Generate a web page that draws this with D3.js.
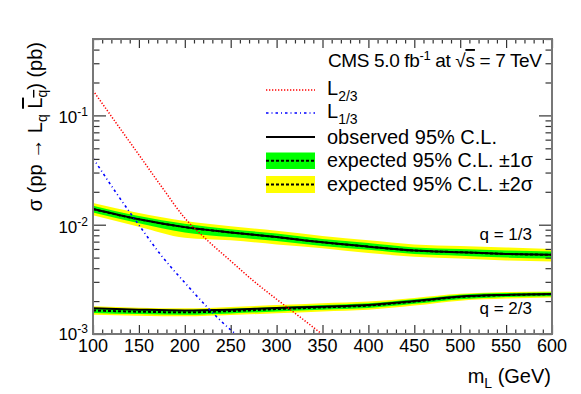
<!DOCTYPE html>
<html>
<head>
<meta charset="utf-8">
<script src="https://d3js.org/d3.v7.min.js"></script>
<style>
  body { margin: 0; background: #fff; }
  text { font-family: "Liberation Sans", Arial, sans-serif; fill: #000; }
</style>
</head>
<body>
<svg width="581" height="394"></svg>
<script>
// mass points for the limits (GeV)
var mass = [100, 150, 200, 250, 300, 350, 400, 450, 500, 550, 600];

// q = 1/3 limits (pb)
var obs13   = [0.0139, 0.0112, 0.0095, 0.0085, 0.0077, 0.0069, 0.0063, 0.0058, 0.0056, 0.0054, 0.0053];
var exp13   = [0.0139, 0.0112, 0.0095, 0.0085, 0.0077, 0.0069, 0.0063, 0.0058, 0.0056, 0.0054, 0.0053];
var exp13p1 = [0.0149, 0.0120, 0.0102, 0.0091, 0.0083, 0.0074, 0.0068, 0.0062, 0.0060, 0.0058, 0.0057];
var exp13m1 = [0.0129, 0.0103, 0.0085, 0.0077, 0.0071, 0.0064, 0.0059, 0.0054, 0.0052, 0.0050, 0.0049];
var exp13p2 = [0.0158, 0.0128, 0.0108, 0.0097, 0.0088, 0.0079, 0.0072, 0.0066, 0.0064, 0.0062, 0.0060];
var exp13m2 = [0.0122, 0.0096, 0.0076, 0.0072, 0.0066, 0.0061, 0.0055, 0.0051, 0.0049, 0.0047, 0.0046];

// q = 2/3 limits (pb)
var obs23   = [0.00172, 0.00167, 0.00164, 0.00167, 0.00173, 0.00178, 0.00184, 0.00200, 0.00220, 0.00228, 0.00232];
var exp23   = [0.00164, 0.00160, 0.00158, 0.00162, 0.00169, 0.00175, 0.00182, 0.00198, 0.00218, 0.00227, 0.00231];
var exp23p1 = [0.00172, 0.00168, 0.00166, 0.00170, 0.00177, 0.00184, 0.00191, 0.00208, 0.00229, 0.00237, 0.00240];
var exp23m1 = [0.00156, 0.00152, 0.00150, 0.00154, 0.00161, 0.00167, 0.00173, 0.00189, 0.00208, 0.00218, 0.00222];
var exp23p2 = [0.00179, 0.00174, 0.00172, 0.00177, 0.00184, 0.00191, 0.00198, 0.00214, 0.00233, 0.00242, 0.00245];
var exp23m2 = [0.00150, 0.00147, 0.00145, 0.00149, 0.00155, 0.00161, 0.00167, 0.00182, 0.00202, 0.00211, 0.00216];

// theory cross sections (pb)
var massL23 = [100, 125, 150, 175, 200, 225, 250, 275, 300, 325, 350];
var xsecL23 = [0.169, 0.0857, 0.0436, 0.0221, 0.0115, 0.00714, 0.00466, 0.00305, 0.00208, 0.00144, 0.00099];
var massL13 = [100, 125, 150, 175, 200, 225, 250, 260];
var xsecL13 = [0.0407, 0.0197, 0.00993, 0.00515, 0.00295, 0.00174, 0.00109, 0.00093];

var xMajor = [100, 150, 200, 250, 300, 350, 400, 450, 500, 550, 600];
var yMajor = [1e-3, 1e-2, 1e-1];
var yLabelExp = ["-3", "-2", "-1"];

var svg = d3.select("svg");
var x = d3.scaleLinear().domain([100, 600]).range([93, 552]);
var y = d3.scaleLog().domain([1e-3, 0.5]).range([334, 39]);

var xMinor = d3.range(100, 601, 10).filter(function(v) { return v % 50 !== 0; });
var yMinor = [];
[1e-3, 1e-2, 1e-1].forEach(function(d) {
  for (var k = 2; k <= 9; k++) { if (d * k <= 0.5) yMinor.push(d * k); }
});

svg.append("clipPath").attr("id", "clip")
  .append("rect").attr("x", 93).attr("y", 39).attr("width", 459).attr("height", 295);

var plot = svg.append("g").attr("clip-path", "url(#clip)");

function band(lo, hi) {
  return d3.area()
    .x(function(d, i) { return x(mass[i]); })
    .y0(function(d, i) { return y(lo[i]); })
    .y1(function(d, i) { return y(hi[i]); })
    .curve(d3.curveMonotoneX)(mass);
}
function curve(xs, ys) {
  return d3.line()
    .x(function(d, i) { return x(xs[i]); })
    .y(function(d, i) { return y(ys[i]); })
    .curve(d3.curveMonotoneX)(xs);
}

[[exp13m2, exp13p2, exp13m1, exp13p1], [exp23m2, exp23p2, exp23m1, exp23p1]].forEach(function(b) {
  plot.append("path").attr("d", band(b[0], b[1])).attr("fill", "#ffff00");
  plot.append("path").attr("d", band(b[2], b[3])).attr("fill", "#00ff00");
});
[exp13, exp23].forEach(function(e) {
  plot.append("path").attr("d", curve(mass, e)).attr("fill", "none")
    .attr("stroke", "#000").attr("stroke-width", 2).attr("stroke-dasharray", "3,2");
});
[obs13, obs23].forEach(function(o) {
  plot.append("path").attr("d", curve(mass, o)).attr("fill", "none")
    .attr("stroke", "#000").attr("stroke-width", 2);
});
plot.append("path").attr("d", curve(massL23, xsecL23)).attr("fill", "none")
  .attr("stroke", "#ff0000").attr("stroke-width", 1.5).attr("stroke-dasharray", "1.3,1.7");
plot.append("path").attr("d", curve(massL13, xsecL13)).attr("fill", "none")
  .attr("stroke", "#0000ff").attr("stroke-width", 1.6).attr("stroke-dasharray", "2.5,3,1,3");

// axes (ticks only, pointing inwards)
function styleAxis(g) {
  g.select(".domain").remove();
  g.selectAll("line").attr("stroke", "#333").attr("stroke-width", 1.2);
}
svg.append("g").attr("transform", "translate(0,334)")
  .call(d3.axisBottom(x).tickValues(xMajor).tickSizeInner(-9).tickSizeOuter(0).tickFormat("")).call(styleAxis);
svg.append("g").attr("transform", "translate(0,334)")
  .call(d3.axisBottom(x).tickValues(xMinor).tickSizeInner(-4.5).tickSizeOuter(0).tickFormat("")).call(styleAxis);
svg.append("g").attr("transform", "translate(0,39)")
  .call(d3.axisTop(x).tickValues(xMajor).tickSizeInner(-9).tickSizeOuter(0).tickFormat("")).call(styleAxis);
svg.append("g").attr("transform", "translate(0,39)")
  .call(d3.axisTop(x).tickValues(xMinor).tickSizeInner(-4.5).tickSizeOuter(0).tickFormat("")).call(styleAxis);
svg.append("g").attr("transform", "translate(93,0)")
  .call(d3.axisLeft(y).tickValues(yMajor).tickSizeInner(-13).tickSizeOuter(0).tickFormat("")).call(styleAxis);
svg.append("g").attr("transform", "translate(93,0)")
  .call(d3.axisLeft(y).tickValues(yMinor).tickSizeInner(-6.5).tickSizeOuter(0).tickFormat("")).call(styleAxis);
svg.append("g").attr("transform", "translate(552,0)")
  .call(d3.axisRight(y).tickValues(yMajor).tickSizeInner(-13).tickSizeOuter(0).tickFormat("")).call(styleAxis);
svg.append("g").attr("transform", "translate(552,0)")
  .call(d3.axisRight(y).tickValues(yMinor).tickSizeInner(-6.5).tickSizeOuter(0).tickFormat("")).call(styleAxis);

svg.append("rect").attr("x", 93).attr("y", 39).attr("width", 459).attr("height", 295)
  .attr("fill", "none").attr("stroke", "#777").attr("stroke-width", 2);

// tick labels
svg.append("g").selectAll("text").data(xMajor).join("text")
  .attr("x", function(d) { return x(d); }).attr("y", 352)
  .attr("text-anchor", "middle").attr("font-size", 18).text(function(d) { return d; });

var yl = svg.append("g").selectAll("text").data(yMajor).join("text")
  .attr("x", 88).attr("y", function(d, i) { return y(d) + (i === 0 ? 6 : 8); })
  .attr("text-anchor", "end").attr("font-size", 17);
yl.append("tspan").text("10");
yl.append("tspan").attr("font-size", 12).attr("dy", -7).text(function(d, i) { return yLabelExp[i]; });

// axis titles
var xt = svg.append("text").attr("x", 551).attr("y", 383).attr("text-anchor", "end").attr("font-size", 20);
xt.append("tspan").text("m");
xt.append("tspan").attr("font-size", 14).attr("dy", 5).text("L");
xt.append("tspan").attr("dy", -5).text(" (GeV)");

var ytl = svg.append("text").attr("transform", "translate(42,42) rotate(-90)")
  .attr("text-anchor", "end").attr("font-size", 20);
ytl.append("tspan").text("σ (pp → L");
ytl.append("tspan").attr("font-size", 14).attr("dy", 5).text("q");
ytl.append("tspan").attr("dy", -5).text(" ");
ytl.append("tspan").style("text-decoration", "overline").text("L");
ytl.append("tspan").attr("font-size", 14).attr("dy", 5).style("text-decoration", "overline").text("q");
ytl.append("tspan").attr("dy", -5).text(") (pb)");

// curve labels
svg.append("text").attr("x", 532).attr("y", 240).attr("text-anchor", "end").attr("font-size", 17).text("q = 1/3");
svg.append("text").attr("x", 532).attr("y", 314).attr("text-anchor", "end").attr("font-size", 17).text("q = 2/3");

// header
var hd = svg.append("text").attr("x", 328).attr("y", 67).attr("font-size", 19)
  .attr("textLength", 214).attr("lengthAdjust", "spacing");
hd.append("tspan").text("CMS 5.0 fb");
hd.append("tspan").attr("font-size", 13).attr("dy", -7).text("-1");
hd.append("tspan").attr("dy", 7).text(" at √");
hd.append("tspan").style("text-decoration", "overline").text("s");
hd.append("tspan").text(" = 7 TeV");

// legend
var lg = svg.append("g");
var lx0 = 266, lx1 = 315, tx = 327;
lg.append("line").attr("x1", lx0).attr("x2", lx1).attr("y1", 90).attr("y2", 90)
  .attr("stroke", "#ff0000").attr("stroke-width", 1.5).attr("stroke-dasharray", "1.3,1.7");
lg.append("line").attr("x1", lx0).attr("x2", lx1).attr("y1", 113).attr("y2", 113)
  .attr("stroke", "#0000ff").attr("stroke-width", 1.6).attr("stroke-dasharray", "2.5,3,1,3");
lg.append("line").attr("x1", lx0).attr("x2", lx1).attr("y1", 137).attr("y2", 137)
  .attr("stroke", "#000").attr("stroke-width", 2);
lg.append("rect").attr("x", lx0).attr("y", 152.5).attr("width", lx1 - lx0).attr("height", 16.5).attr("fill", "#00ff00");
lg.append("rect").attr("x", lx0).attr("y", 176).attr("width", lx1 - lx0).attr("height", 17).attr("fill", "#ffff00");
[160.7, 184.5].forEach(function(yy) {
  lg.append("line").attr("x1", lx0).attr("x2", lx1).attr("y1", yy).attr("y2", yy)
    .attr("stroke", "#000").attr("stroke-width", 2).attr("stroke-dasharray", "3,2");
});
function lText(yy, main, sub, len) {
  var t = lg.append("text").attr("x", tx).attr("y", yy).attr("font-size", 20);
  if (len) t.attr("textLength", len).attr("lengthAdjust", "spacingAndGlyphs");
  t.append("tspan").text(main);
  if (sub) t.append("tspan").attr("font-size", 14).attr("dy", 6).text(sub);
}
lText(95, "L", "2/3");
lText(118, "L", "1/3");
lText(144, "observed 95% C.L.", null, 170);
lText(167, "expected 95% C.L. ±1σ", null, 206);
lText(191, "expected 95% C.L. ±2σ", null, 206);
</script>
</body>
</html>
